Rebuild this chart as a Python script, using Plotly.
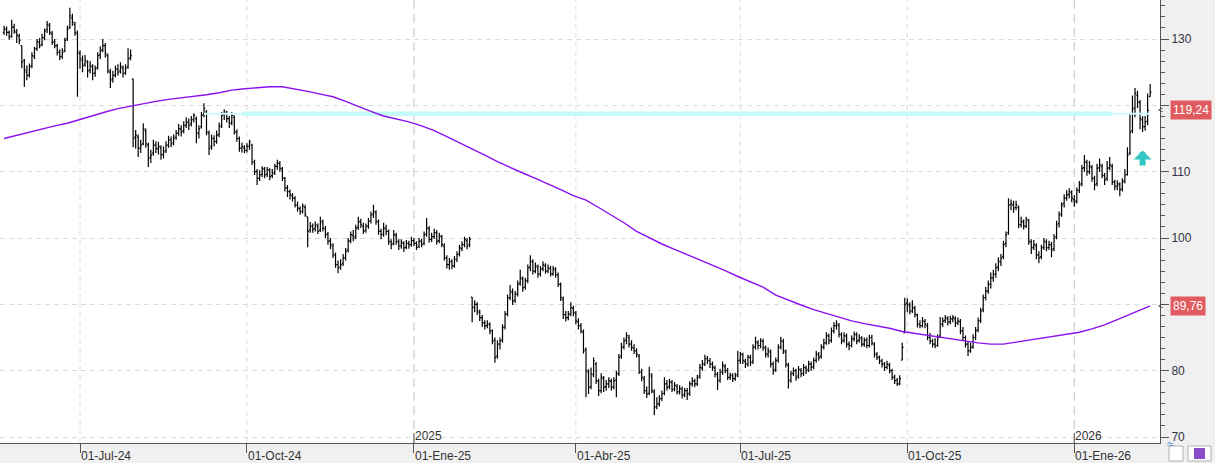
import numpy as np
import pandas as pd
import plotly.graph_objects as go

# ---------------- data ----------------
opens = [
131.0,131.5,131.0,130.4,131.8,131.0,130.4,129.0,126.8,125.0,
124.6,126.0,127.4,128.6,129.5,129.2,130.2,131.4,132.0,130.8,
129.6,129.0,128.0,127.4,128.2,130.0,131.8,133.2,132.2,130.8,
127.8,126.8,126.2,126.5,125.3,125.8,124.9,125.7,127.6,128.4,
129.0,127.5,125.0,124.0,124.6,125.4,125.2,125.6,124.9,125.8,
127.2,124.0,115.2,115.2,113.6,114.2,116.2,114.0,112.2,112.8,
114.0,113.4,113.6,112.6,113.2,114.0,114.8,114.4,115.2,115.8,
116.4,116.2,117.0,117.4,117.2,117.9,118.0,115.8,116.8,118.6,
119.0,115.8,113.8,115.0,114.6,115.6,117.0,118.6,118.8,118.0,
117.4,118.2,116.0,115.0,113.6,113.6,113.2,113.8,114.0,111.4,
110.0,109.0,109.6,110.4,109.6,110.2,109.4,109.8,110.8,111.2,
110.4,109.0,107.6,107.0,106.4,106.0,105.0,104.4,104.0,104.6,
103.2,101.2,101.8,101.4,101.8,101.2,102.3,101.4,100.6,99.6,
98.8,97.4,96.0,95.6,96.2,97.0,98.2,99.6,100.4,100.2,
101.6,102.4,101.8,101.2,101.8,102.6,103.6,103.8,102.4,101.0,
100.6,101.4,101.0,99.4,99.2,100.4,99.4,98.8,99.2,98.6,
99.2,99.0,99.6,99.2,98.8,99.5,99.2,100.6,101.4,99.8,
100.2,100.8,99.6,100.2,98.8,97.0,96.0,96.4,95.8,96.8,
97.6,98.4,99.0,99.6,99.0,91.1,89.6,90.0,88.8,88.0,
87.2,86.8,87.0,86.0,84.6,82.2,84.0,84.6,86.6,88.6,
91.0,91.8,90.6,91.6,93.2,93.8,92.6,93.6,95.6,96.4,
95.0,95.6,94.6,95.4,95.8,95.0,95.4,94.6,95.2,94.4,
93.0,90.8,88.4,88.0,88.6,89.4,88.6,87.4,86.8,85.8,
83.2,79.8,77.6,79.4,81.0,78.4,77.0,78.8,77.6,78.0,
78.4,77.6,78.6,79.6,82.2,83.6,84.6,85.0,84.0,83.4,
83.0,82.2,79.8,78.8,77.0,76.6,79.2,76.8,74.6,75.0,
75.8,76.6,78.0,77.6,78.2,77.2,77.6,76.8,77.2,76.4,
77.0,76.6,78.0,78.4,78.0,79.2,80.4,81.0,81.8,81.5,
81.0,80.4,79.4,78.6,79.8,80.6,80.0,79.0,79.2,78.8,
79.4,81.6,82.4,81.4,81.0,82.0,81.4,83.6,84.2,83.8,
84.4,83.4,82.5,82.8,81.0,80.2,81.6,83.6,84.4,82.8,
80.8,78.6,79.6,80.0,79.2,80.0,79.6,80.4,80.2,81.0,
80.6,81.6,82.4,82.2,83.6,84.2,85.2,84.6,86.0,86.8,
86.8,85.4,84.6,85.2,84.0,83.8,84.8,85.4,84.6,84.8,
84.0,84.6,83.8,85.0,84.0,82.4,82.0,81.4,81.0,80.5,
80.8,80.0,79.0,78.6,78.0,81.6,85.7,90.2,89.8,89.0,
89.4,88.4,87.0,86.8,87.4,86.8,85.0,84.4,84.0,83.8,
85.2,87.0,87.6,87.8,87.4,87.8,87.8,87.2,87.4,86.0,
85.0,84.0,83.0,83.6,85.0,86.2,87.6,89.2,91.0,92.0,
93.0,94.0,94.6,95.6,96.4,97.2,99.2,100.8,105.0,105.0,
104.6,104.6,102.0,102.4,101.8,102.6,99.4,98.6,98.8,97.4,
97.2,98.6,99.4,98.6,99.0,98.4,100.2,102.2,103.6,105.2,
106.0,106.6,106.8,105.8,105.6,107.2,108.2,110.6,111.4,110.0,
110.6,109.0,108.2,110.6,110.8,109.4,109.0,110.6,110.8,108.4,
107.8,108.0,107.4,108.6,109.6,112.8,116.2,119.6,121.5,120.4,
117.8,116.8,117.6,121.3]

highs = [
132.0,131.9,131.3,132.9,132.3,131.5,130.8,129.0,127.0,126.0,
126.3,128.0,128.8,130.0,130.1,130.8,131.6,132.7,132.4,131.2,
130.0,129.3,128.4,128.6,130.2,132.0,134.7,133.8,132.6,131.3,
128.3,127.5,127.6,126.8,126.7,126.2,126.0,128.0,128.9,130.0,
129.4,127.8,125.5,125.2,126.0,126.2,126.5,126.0,126.2,128.6,
128.4,124.0,116.3,115.6,114.8,117.3,116.5,114.4,113.3,114.8,
114.6,114.5,114.0,113.8,114.6,115.4,115.3,115.6,116.3,117.2,
117.0,117.6,118.2,118.0,118.4,118.8,118.3,117.0,119.0,120.3,
119.3,116.2,115.6,115.5,116.2,117.4,119.0,119.4,119.2,118.4,
119.0,118.5,116.4,115.3,114.4,114.0,114.3,114.8,114.2,111.8,
110.4,110.2,110.8,110.7,110.7,110.5,110.4,111.2,111.8,111.6,
110.7,109.2,108.0,107.3,106.8,106.3,105.5,104.8,105.2,105.0,
103.2,102.4,102.2,102.5,102.2,103.2,102.8,101.8,100.9,100.0,
99.2,97.8,96.6,96.8,97.6,98.5,100.0,101.0,101.2,102.0,
103.2,102.9,102.3,102.2,103.0,104.0,105.0,104.2,102.8,101.4,
102.3,102.0,101.3,99.8,101.2,100.8,99.8,99.8,99.5,99.7,
99.6,100.2,100.0,99.5,100.0,99.9,101.0,103.0,101.8,100.8,
101.4,101.2,100.8,100.5,99.2,97.4,97.0,96.8,97.3,98.0,
99.0,99.5,100.2,100.0,100.2,91.1,90.6,90.3,89.2,88.4,
87.6,87.6,87.3,86.2,85.0,84.6,85.0,87.0,89.0,91.5,
92.9,92.4,92.0,93.6,95.2,94.2,94.0,96.0,97.4,96.8,
96.3,96.0,95.8,96.5,96.2,96.0,95.8,95.8,95.6,94.8,
93.3,91.2,89.0,89.0,90.3,89.8,89.0,87.9,87.2,86.2,
83.5,80.2,80.5,82.0,81.3,78.8,79.6,79.2,78.6,79.0,
78.8,79.0,80.0,82.5,84.2,85.0,85.8,85.4,84.6,84.0,
83.4,82.5,80.3,79.2,77.6,80.6,79.6,77.2,76.0,76.3,
77.0,79.0,78.6,78.8,78.6,78.3,78.0,77.8,77.6,77.4,
77.4,78.4,79.0,78.8,79.4,81.0,81.6,82.4,82.2,81.9,
81.4,80.8,79.8,80.3,81.4,81.0,80.4,79.7,79.6,79.7,
83.0,82.8,82.7,81.8,82.4,82.4,84.0,85.1,84.6,84.9,
84.8,83.8,83.5,83.2,81.4,82.0,84.0,85.1,84.8,83.2,
81.2,80.0,80.5,80.3,80.7,80.4,81.0,80.8,81.5,81.4,
82.0,83.0,82.8,84.0,84.8,85.8,85.6,86.5,87.3,87.6,
87.2,85.8,85.8,85.6,84.4,85.3,85.9,85.8,85.5,85.2,
85.0,85.0,85.4,85.4,84.3,82.8,82.3,81.8,81.3,81.5,
81.2,80.3,79.4,78.9,79.3,84.2,91.0,90.9,90.3,90.6,
89.8,88.6,87.6,88.1,87.8,87.2,85.7,84.8,84.9,85.5,
88.1,88.0,88.4,88.2,88.3,88.4,88.2,88.0,87.8,86.6,
85.3,84.4,84.2,85.5,86.6,88.0,89.5,91.5,92.6,93.6,
94.8,95.2,96.2,97.1,97.6,99.6,101.0,106.0,105.8,105.6,
105.6,104.9,103.2,102.8,103.2,102.9,99.8,99.7,99.2,98.0,
99.0,100.0,99.8,99.6,99.4,100.6,102.6,104.0,105.4,106.6,
107.2,107.5,107.2,106.5,107.6,108.6,111.0,112.5,111.8,111.6,
111.0,109.4,111.2,112.0,111.2,109.8,111.6,112.2,111.2,108.8,
108.7,108.4,109.0,110.4,113.7,118.8,121.5,122.6,122.2,120.8,
118.4,118.4,121.8,123.2]

lows = [
130.6,130.5,129.9,130.2,130.8,129.4,129.2,125.6,122.8,123.8,
124.2,125.6,127.0,128.2,128.6,128.9,129.8,130.9,130.6,129.1,
128.6,127.5,126.8,127.0,128.0,129.7,131.5,132.0,130.5,121.3,
125.5,125.0,125.8,124.2,124.8,123.8,124.3,125.4,127.0,128.0,
127.2,124.8,122.6,123.4,124.2,124.5,124.8,124.2,124.6,125.5,
126.8,113.7,113.5,112.2,112.8,114.0,113.6,110.7,111.3,112.4,
112.8,112.6,111.8,112.0,112.8,113.6,113.7,114.0,114.8,115.4,
115.3,115.8,116.6,116.3,116.8,117.4,114.3,115.0,116.5,118.2,
115.5,112.5,113.3,113.8,114.2,115.2,116.6,117.8,117.4,116.6,
117.0,115.6,114.5,113.0,112.9,112.8,112.9,113.3,111.0,109.5,
108.0,108.6,109.2,109.0,109.2,108.7,109.0,109.5,110.3,110.0,
108.6,107.0,106.2,105.8,105.5,104.6,104.0,103.5,103.7,103.2,
98.6,100.8,100.8,101.0,100.6,100.9,101.0,100.0,99.0,98.3,
97.0,95.5,94.7,95.2,95.8,96.6,97.8,99.2,99.5,99.8,
101.2,101.5,100.6,100.8,101.4,102.2,103.0,102.0,100.5,99.8,
100.2,100.4,99.0,98.3,98.9,99.0,98.2,98.4,97.9,98.3,
98.4,98.7,98.8,98.2,98.5,98.6,98.9,100.2,99.3,99.4,
99.9,99.0,99.2,98.6,96.6,95.4,95.2,95.3,95.5,96.4,
97.2,98.0,98.6,98.3,98.6,87.3,88.8,88.4,87.5,86.6,
86.2,86.4,85.5,84.0,81.2,81.8,83.2,84.2,86.2,88.2,
90.6,89.9,90.2,91.2,92.8,91.9,92.2,93.2,95.0,94.5,
94.7,94.0,94.2,95.0,94.6,94.7,94.2,94.3,94.0,92.6,
90.5,87.8,87.4,87.6,88.2,88.2,87.0,86.2,85.6,82.6,
76.0,76.5,77.2,79.0,78.0,76.2,76.6,76.8,77.0,77.4,
77.0,77.2,76.0,79.2,81.8,83.2,84.0,83.5,83.0,82.5,
82.0,79.5,78.4,76.5,75.9,76.3,76.6,73.3,74.2,74.6,
75.4,76.3,77.0,77.2,76.8,76.9,76.4,76.4,75.8,76.0,
75.6,76.2,77.6,77.5,77.7,78.8,80.0,80.7,81.0,80.4,
80.0,79.0,77.1,78.2,79.4,79.6,78.6,78.6,78.3,78.5,
79.0,81.0,81.0,80.4,80.6,80.7,81.0,83.2,83.2,83.4,
83.0,82.0,82.0,80.5,79.4,79.8,81.2,83.2,82.5,80.5,
77.3,78.2,79.2,78.5,78.8,79.0,79.2,79.5,79.8,80.0,
80.2,81.2,81.5,81.8,83.2,83.9,84.0,84.2,85.6,86.2,
85.0,84.0,84.2,83.5,83.1,83.5,84.4,84.0,84.2,83.6,
83.6,83.4,83.5,83.8,82.0,81.6,81.0,80.5,80.0,80.2,
79.6,78.6,78.0,77.7,77.8,81.6,85.7,88.8,88.5,88.7,
88.0,86.5,86.4,86.5,86.4,84.6,84.0,83.5,83.4,83.6,
85.0,86.6,87.2,86.8,87.0,87.3,86.6,86.9,85.5,84.5,
83.5,82.2,82.7,83.3,84.6,85.8,87.2,88.8,90.6,91.6,
92.4,93.4,94.0,95.0,95.8,96.8,98.6,100.5,104.2,103.8,
104.2,101.5,101.6,101.3,101.5,99.0,97.6,98.2,96.8,96.2,
96.8,98.2,98.0,98.2,97.1,98.0,99.8,101.6,103.2,104.6,
105.6,106.0,105.4,104.7,105.2,106.8,107.8,110.0,109.4,109.6,
108.5,107.2,107.8,110.0,109.0,108.0,108.6,110.2,108.0,107.2,
107.2,106.3,107.0,108.2,109.4,112.5,115.8,118.2,119.6,116.4,
116.0,116.2,117.0,121.3]

closes = [
131.5,131.0,130.3,131.8,131.2,130.6,129.8,126.5,125.3,124.5,
125.8,127.5,128.5,129.6,129.0,130.2,131.2,132.2,131.0,129.5,
129.0,128.0,127.3,128.0,129.8,131.5,133.5,132.5,131.0,128.0,
127.0,126.0,126.8,125.2,126.0,124.8,125.5,127.5,128.2,129.0,
127.8,125.2,123.8,124.5,125.5,125.0,125.8,124.8,125.6,127.0,
127.5,115.0,115.5,113.5,114.0,116.5,114.2,112.0,112.5,114.0,
113.5,113.8,112.5,113.0,114.0,114.8,114.2,115.0,115.8,116.5,
116.0,117.0,117.5,117.0,117.8,118.5,115.8,116.5,118.5,119.5,
116.0,113.5,115.0,114.5,115.5,116.8,118.5,119.0,118.0,117.3,
118.5,116.0,115.0,113.5,113.8,113.2,113.8,114.5,111.5,110.0,
109.0,109.5,110.5,109.5,110.3,109.3,109.8,110.8,111.3,110.5,
109.0,107.5,107.0,106.5,106.0,105.0,104.5,104.0,104.8,103.5,
101.0,101.8,101.3,102.0,101.0,102.5,101.5,100.5,99.5,99.0,
97.5,96.0,95.5,96.0,97.0,98.0,99.5,100.5,100.0,101.5,
102.5,102.0,101.0,101.8,102.5,103.5,104.0,102.5,101.0,100.5,
101.5,101.0,99.5,99.0,100.5,99.5,98.8,99.3,98.5,99.2,
99.0,99.6,99.2,98.6,99.5,99.0,100.5,101.5,99.8,100.2,
100.8,99.5,100.3,99.0,97.0,96.0,96.5,95.8,96.8,97.5,
98.5,99.0,99.8,98.8,99.8,89.5,90.0,89.0,88.0,87.2,
86.8,87.0,86.0,84.5,82.0,84.0,84.5,86.5,88.5,91.0,
92.0,90.5,91.5,93.0,94.0,92.5,93.5,95.5,96.5,95.0,
95.8,94.5,95.3,96.0,95.0,95.5,94.6,95.4,94.5,93.0,
91.0,88.5,88.0,88.5,89.5,88.8,87.5,86.8,86.0,83.0,
80.0,77.5,79.5,81.5,78.5,77.0,79.0,77.5,78.0,78.5,
77.5,78.5,79.5,82.0,83.5,84.5,85.3,84.0,83.5,83.0,
82.5,79.8,79.0,77.0,76.5,79.5,77.0,74.5,75.0,75.8,
76.5,78.0,77.5,78.3,77.2,77.8,76.8,77.3,76.3,77.0,
76.5,78.0,78.5,78.0,79.0,80.5,81.0,81.8,81.5,81.0,
80.5,79.5,78.5,79.8,80.8,80.0,79.0,79.3,78.8,79.2,
81.5,82.5,81.5,81.0,82.0,81.2,83.5,84.3,83.8,84.5,
83.5,82.5,83.0,81.0,80.0,81.5,83.5,84.5,83.0,81.0,
78.5,79.5,80.0,79.0,80.2,79.5,80.5,80.0,81.0,80.5,
81.5,82.5,82.0,83.5,84.2,85.3,84.5,86.0,86.8,87.0,
85.5,84.5,85.3,84.0,83.8,84.8,85.5,84.5,85.0,84.0,
84.6,83.8,85.0,84.2,82.5,82.0,81.5,81.0,80.5,81.0,
80.0,79.0,78.5,78.0,78.8,83.5,90.0,90.0,89.0,89.5,
88.5,87.0,86.8,87.5,87.0,85.0,84.5,84.0,83.8,85.0,
87.0,87.5,88.0,87.3,87.8,88.0,87.2,87.5,86.0,85.0,
84.0,83.0,83.5,85.0,86.0,87.5,89.0,91.0,92.0,93.0,
94.0,94.5,95.5,96.5,97.0,99.0,100.5,105.0,105.2,104.5,
105.0,102.0,102.5,101.8,102.8,99.5,98.5,99.0,97.5,97.0,
98.5,99.5,98.5,99.0,98.2,100.0,102.0,103.5,105.0,106.0,
106.5,107.0,106.0,105.5,107.2,108.0,110.5,111.5,110.0,110.8,
109.0,108.0,110.5,111.0,109.5,108.8,110.5,111.0,108.5,107.8,
108.2,107.3,108.5,109.5,112.5,116.0,119.5,121.8,120.5,118.0,
116.8,117.5,119.24,122.0]

# moving average, sampled once a week (every 5th session) plus the last session
ma_values = [
115.0,115.5,116.0,116.4,116.9,117.3,117.9,118.5,119.0,119.5,
119.9,120.3,120.6,120.9,121.1,121.3,121.6,121.9,122.3,122.5,
122.7,122.8,122.8,122.5,122.1,121.7,121.3,120.6,119.8,119.1,
118.4,118.0,117.5,116.9,116.2,115.3,114.4,113.4,112.5,111.5,
110.6,109.8,109.0,108.2,107.3,106.4,105.7,104.6,103.5,102.3,
101.0,100.0,99.1,98.3,97.5,96.7,96.0,95.1,94.2,93.4,
92.6,91.4,90.6,89.9,89.2,88.6,88.0,87.5,87.1,86.8,
86.4,85.9,85.6,85.4,85.1,84.8,84.5,84.2,84.0,84.0,
84.3,84.6,84.8,85.1,85.4,85.8,86.3,86.9,87.7,88.5,
89.3,89.76]

first_session = "2024-05-20"
last_price = 119.24
ma_last = 89.76
res_level = 118.75
res_dates = ["2024-09-06", "2024-09-27", "2026-01-22"]   # thin start, thick start, thick end
arrow_date = "2026-02-09"
arrow_tip, arrow_tail = 113.2, 110.7

month_dates = ["2024-07-01", "2024-10-01", "2025-01-01", "2025-04-01",
               "2025-07-01", "2025-10-01", "2026-01-01"]
month_labels = ["01-Jul-24", "01-Oct-24", "01-Ene-25", "01-Abr-25",
                "01-Jul-25", "01-Oct-25", "01-Ene-26"]
year_dates = ["2025-01-01", "2026-01-01"]
year_labels = ["2025", "2026"]
y_ticks = [70, 80, 90, 100, 110, 120, 130]
# 90 and 120 sit under the value boxes in the reference, so their labels are not visible
y_tick_labels = ["70", "80", "", "100", "110", "", "130"]

# ---------------- build ----------------
n = min(len(opens), len(highs), len(lows), len(closes))
sessions = pd.bdate_range(first_session, periods=n)
xi = np.arange(n)


def pos(d):
    return int(sessions.searchsorted(pd.Timestamp(d)))


FONT = "Liberation Sans, Arial, sans-serif"
fig = go.Figure()

# resistance band (thin / thick / thin)
p_thin, p_thick0, p_thick1 = [pos(d) for d in res_dates]
fig.add_trace(go.Scatter(x=[p_thin, p_thick0], y=[res_level, res_level], mode="lines",
                         line=dict(color="#cdfbfb", width=2), hoverinfo="skip"))
fig.add_trace(go.Scatter(x=[p_thick0, p_thick1], y=[res_level, res_level], mode="lines",
                         line=dict(color="#c6f9f9", width=4.5), hoverinfo="skip"))
fig.add_trace(go.Scatter(x=[p_thick1, n - 1], y=[res_level, res_level], mode="lines",
                         line=dict(color="#cdfbfb", width=2), hoverinfo="skip"))

# moving average
ma_x = list(range(0, n - 3, 5))[:len(ma_values) - 1] + [n - 1]
fig.add_trace(go.Scatter(x=ma_x, y=ma_values, mode="lines",
                         line=dict(color="#8a10f0", width=1.4), hoverinfo="skip"))

# OHLC bars
fig.add_trace(go.Ohlc(x=xi, open=opens[:n], high=highs[:n], low=lows[:n], close=closes[:n],
                      increasing=dict(line=dict(color="black", width=1.2)),
                      decreasing=dict(line=dict(color="black", width=1.2)),
                      tickwidth=0.5, hoverinfo="skip"))

shapes = []
month_pos = [pos(d) for d in month_dates]
year_pos = [pos(d) for d in year_dates]
for p in month_pos:
    if p in year_pos:
        shapes.append(dict(type="line", xref="x", yref="paper", x0=p, x1=p, y0=0, y1=1,
                           line=dict(color="#c4c4c4", width=1, dash="9px,5px"), layer="below"))
        shapes.append(dict(type="line", xref="x", yref="paper", x0=p, x1=p, y0=0, y1=10 / 443,
                           line=dict(color="#555555", width=1), layer="above"))
    else:
        shapes.append(dict(type="line", xref="x", yref="paper", x0=p, x1=p, y0=0, y1=1,
                           line=dict(color="#dedede", width=1, dash="5px,4px"), layer="below"))

# small toolbar boxes bottom-right
for bx0, bx1 in [(1169, 1183), (1188, 1211)]:
    shapes.append(dict(type="rect", xref="paper", yref="paper",
                       x0=bx0 / 1160, x1=bx1 / 1160, y0=-3 / 443, y1=-18 / 443,
                       fillcolor="white", line=dict(color="#b0b0b0", width=1)))
shapes.append(dict(type="rect", xref="paper", yref="paper",
                   x0=1194 / 1160, x1=1205 / 1160, y0=-5 / 443, y1=-16 / 443,
                   fillcolor="#8a4fc8", line=dict(width=0)))

annotations = []
for p, lab in zip(month_pos, month_labels):
    annotations.append(dict(x=p, y=0, xref="x", yref="paper", text=lab, showarrow=False,
                            xanchor="left", yanchor="top", yshift=-4, xshift=-1,
                            font=dict(family=FONT, size=12, color="#333333")))
for p, lab in zip(year_pos, year_labels):
    annotations.append(dict(x=p, y=0, xref="x", yref="paper", text=lab, showarrow=False,
                            xanchor="left", yanchor="bottom", yshift=-2, xshift=-1,
                            font=dict(family=FONT, size=12, color="#333333")))
for val in [last_price, ma_last]:
    annotations.append(dict(x=1, y=val, xref="paper", yref="y",
                            text=f"{val:.2f}".replace(".", ","), showarrow=False,
                            xanchor="left", xshift=10, bgcolor="#e05a5e", borderpad=2,
                            font=dict(family=FONT, size=12, color="white")))
    annotations.append(dict(x=1, y=val, xref="paper", yref="y", text="<", showarrow=False,
                            xanchor="left", xshift=-3, borderpad=0,
                            font=dict(family=FONT, size=9, color="#444444")))
annotations.append(dict(x=pos(arrow_date), y=arrow_tip, ax=pos(arrow_date), ay=arrow_tail,
                        xref="x", yref="y", axref="x", ayref="y", text="", showarrow=True,
                        arrowhead=1, arrowsize=0.5, arrowwidth=6, arrowcolor="#33c6c4"))
annotations.append(dict(x=1176 / 1160, y=-10 / 443, xref="paper", yref="paper", text="≈",
                        showarrow=False, font=dict(family=FONT, size=12, color="#4a8fd8")))

fig.update_layout(
    width=1215, height=463,
    margin=dict(l=0, r=55, t=0, b=20),
    paper_bgcolor="#f0f0f0", plot_bgcolor="white",
    showlegend=False,
    font=dict(family=FONT, size=12, color="#333333"),
    shapes=shapes, annotations=annotations,
    xaxis=dict(range=[-1.62, 456.88], tickvals=month_pos, showticklabels=False,
               ticks="outside", ticklen=9, tickcolor="#555555", showgrid=False,
               showline=True, linecolor="#555555", linewidth=1, zeroline=False,
               rangeslider=dict(visible=False), fixedrange=True),
    yaxis=dict(side="right", range=[69.10, 135.88], tickvals=y_ticks, ticktext=y_tick_labels,
               ticks="outside", ticklen=8, tickcolor="#555555",
               showline=True, linecolor="#555555", linewidth=1,
               showgrid=True, gridcolor="#dcdcdc", griddash="5px,4px", zeroline=False,
               tickfont=dict(family=FONT, size=12, color="#333344"),
               minor=dict(dtick=10 / 6, tick0=70, ticks="outside", ticklen=4,
                          tickcolor="#555555", showgrid=False)),
)

fig.write_html("out.html", config={"displayModeBar": False})
